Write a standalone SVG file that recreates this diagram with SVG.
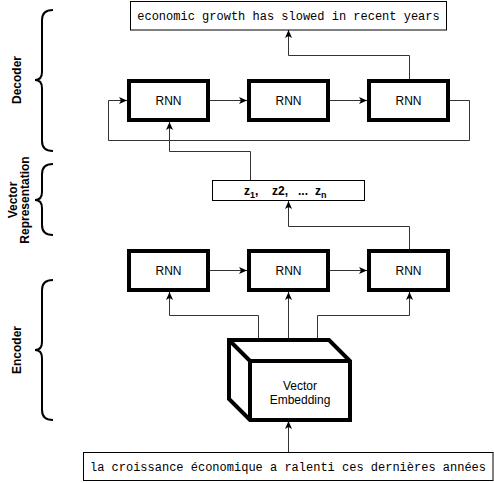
<svg xmlns="http://www.w3.org/2000/svg" width="494" height="483" viewBox="0 0 494 483">
<defs>
<marker id="arr" viewBox="0 0 8 7" refX="8" refY="3.5" markerWidth="8" markerHeight="7" markerUnits="userSpaceOnUse" orient="auto">
<path d="M0,0 L8,3.5 L0,7 L2,3.5 Z" fill="#000"/>
</marker>
</defs>
<style>
.rnn{fill:#fff;stroke:#000;stroke-width:4}
.box{fill:#fff;stroke:#000;stroke-width:1}
.lbl{font-family:"Liberation Sans",Arial,sans-serif;font-size:12px;fill:#000;text-anchor:middle}
.mono{font-family:"Liberation Mono","Courier New",monospace;font-size:12px;fill:#000;text-anchor:middle}
.side{font-family:"Liberation Sans",Arial,sans-serif;font-size:12px;font-weight:bold;fill:#000;text-anchor:middle}
.z{font-family:"Liberation Sans",Arial,sans-serif;font-size:12px;font-weight:bold;fill:#000}
.con{fill:none;stroke:#333;stroke-width:1;marker-end:url(#arr)}
.brace{fill:none;stroke:#000;stroke-width:2}
</style>
<rect width="494" height="483" fill="#fff"/>

<g id="connectors">
<path class="con" d="M210,100.5 H247"/>
<path class="con" d="M330,100.5 H367"/>
<path class="con" d="M450,100.5 H469.5 V140.5 H108.5 V100.5 H127"/>
<path class="con" d="M409.5,79 V55.5 H288.5 V30"/>
<path class="con" d="M250.5,180 V151.5 H169.5 V122"/>
<path class="con" d="M409.5,249 V226.5 H288.5 V201"/>
<path class="con" d="M210,270.5 H247"/>
<path class="con" d="M330,270.5 H367"/>
<path class="con" d="M258.5,338 V315.5 H169.5 V292"/>
<path class="con" d="M288.5,338 V292"/>
<path class="con" d="M317.5,338 V315.5 H409.5 V292"/>
<path class="con" d="M288.5,452 V421"/>
</g>

<g id="output-text">
<rect class="box" x="130.5" y="1.5" width="316" height="28.5"/>
<text class="mono" x="288.5" y="19.5">economic growth has slowed in recent years</text>
</g>

<g id="dec-rnn1"><rect class="rnn" x="129" y="81" width="79" height="39"/><text class="lbl" x="168.5" y="105">RNN</text></g>
<g id="dec-rnn2"><rect class="rnn" x="249" y="81" width="79" height="39"/><text class="lbl" x="288.5" y="105">RNN</text></g>
<g id="dec-rnn3"><rect class="rnn" x="369" y="81" width="79" height="39"/><text class="lbl" x="408.5" y="105">RNN</text></g>

<g id="vector-rep">
<rect class="box" x="212.5" y="180.5" width="152" height="20"/>
<text class="z" x="244" y="195">z<tspan font-size="9" dy="3">1</tspan><tspan dy="-3">,</tspan><tspan x="272">z2,</tspan><tspan x="298">...</tspan><tspan x="315">z</tspan><tspan font-size="9" dy="3">n</tspan></text>
</g>

<g id="enc-rnn1"><rect class="rnn" x="129" y="251" width="79" height="39"/><text class="lbl" x="168.5" y="275">RNN</text></g>
<g id="enc-rnn2"><rect class="rnn" x="249" y="251" width="79" height="39"/><text class="lbl" x="288.5" y="275">RNN</text></g>
<g id="enc-rnn3"><rect class="rnn" x="369" y="251" width="79" height="39"/><text class="lbl" x="408.5" y="275">RNN</text></g>

<g id="embedding">
<path d="M229,340 H329 L350,361 V420 H250 L229,399 Z" fill="#fff" stroke="#000" stroke-width="4" stroke-linejoin="miter"/>
<path d="M229,340 L250,361 H350 M250,361 V420" fill="none" stroke="#000" stroke-width="4"/>
<text class="lbl" x="300" y="390">Vector</text>
<text class="lbl" x="300" y="404">Embedding</text>
</g>

<g id="input-text">
<rect class="box" x="83.5" y="452.5" width="409.5" height="28"/>
<text class="mono" x="288" y="470.5">la croissance économique a ralenti ces dernières années</text>
</g>

<g id="decoder-label">
<path class="brace" d="M53,10 Q42,10 42,20 V72 Q42,80 35,80 Q42,80 42,88 V141 Q42,151 53,151"/>
<text class="side" transform="translate(20.5,80) rotate(-90)">Decoder</text>
</g>
<g id="vector-label">
<path class="brace" d="M53,164 Q42,164 42,174 V192 Q42,200 35,200 Q42,200 42,208 V225 Q42,235 53,235"/>
<text class="side" transform="translate(16.5,200) rotate(-90)">Vector</text>
<text class="side" transform="translate(29,200) rotate(-90)">Representation</text>
</g>
<g id="encoder-label">
<path class="brace" d="M53,280 Q42,280 42,290 V342 Q42,350 35,350 Q42,350 42,358 V410 Q42,420 53,420"/>
<text class="side" transform="translate(21,350) rotate(-90)">Encoder</text>
</g>
</svg>
